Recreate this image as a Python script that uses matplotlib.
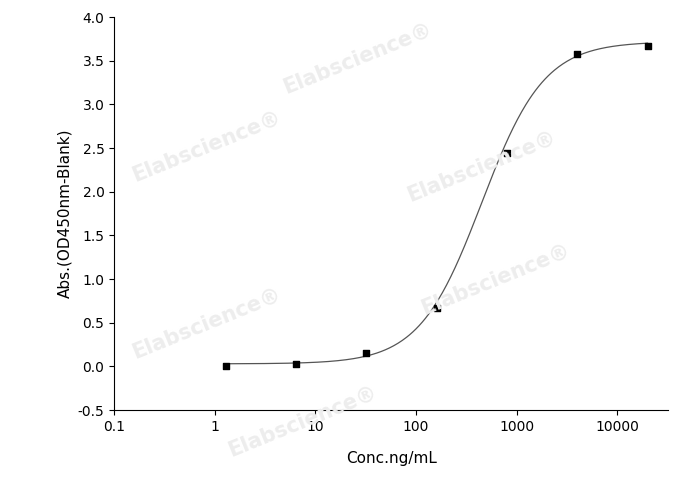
import numpy as np
import matplotlib.pyplot as plt

conc = [1.28, 6.4, 32, 160, 800, 4000, 20000]
absb = [0.01, 0.03, 0.15, 0.67, 2.45, 3.58, 3.67]
# 4PL fit parameters (estimated)
A1, A2, X0, P = 0.03, 3.72, 450.0, 1.4
xticklabels = ['0.1', '1', '10', '100', '1000', '10000']
yticks = [-0.5, 0.0, 0.5, 1.0, 1.5, 2.0, 2.5, 3.0, 3.5, 4.0]

fig = plt.figure(figsize=(6.88, 4.9), dpi=100)
ax = fig.add_axes([0.166, 0.163, 0.805, 0.802])
xs = np.logspace(np.log10(1.28), np.log10(20000), 400)
ax.plot(xs, A2 + (A1 - A2) / (1 + (xs / X0) ** P), color='#555555', lw=0.9)
ax.scatter(conc, absb, marker='s', s=22, color='black', zorder=3)
ax.set_xscale('log')
ax.set_xlim(0.1, 32000)
ax.set_ylim(-0.5, 4.0)
ax.set_xticks([0.1, 1, 10, 100, 1000, 10000])
ax.set_xticklabels(xticklabels)
ax.minorticks_off()
ax.set_yticks(yticks)
ax.set_yticklabels([f'{v:.1f}' for v in yticks])
ax.spines['top'].set_visible(False)
ax.spines['right'].set_visible(False)
ax.tick_params(labelsize=10, direction='out')
ax.set_xlabel('Conc.ng/mL', fontsize=11, labelpad=12)
ax.set_ylabel('Abs.(OD450nm-Blank)', fontsize=11)
for (x, y) in [(0.52, 0.88), (0.30, 0.70), (0.70, 0.66), (0.30, 0.34), (0.72, 0.43), (0.44, 0.14)]:
    fig.text(x, y, 'Elabscience®', fontsize=15, fontweight='bold', color='#ededed',
             rotation=22, ha='center', va='center', zorder=0)
fig.savefig('out.png')
